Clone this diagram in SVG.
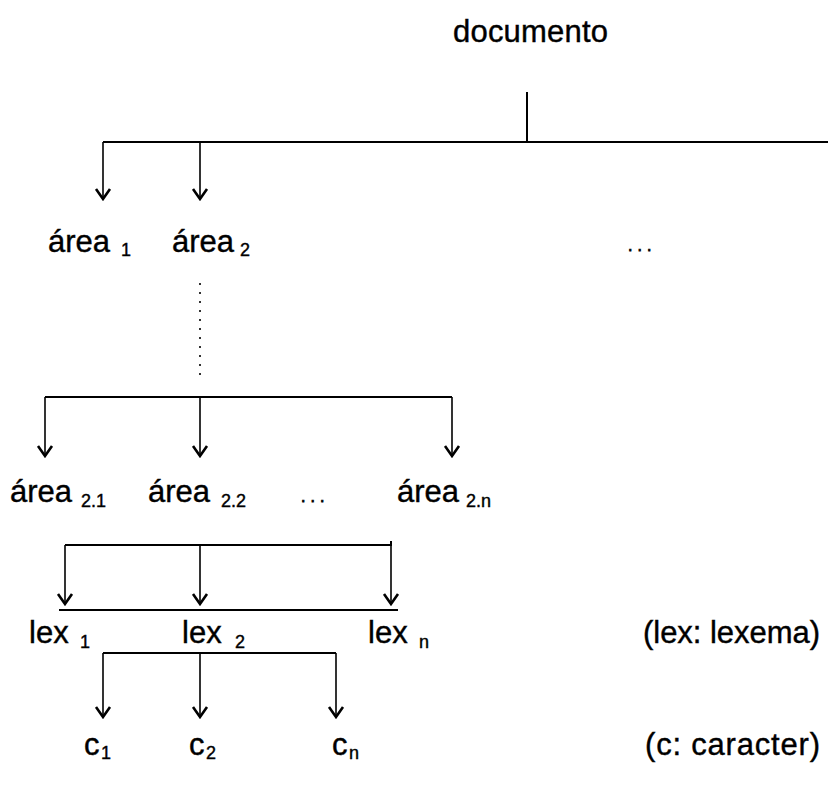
<svg xmlns="http://www.w3.org/2000/svg" width="828" height="787" viewBox="0 0 828 787">
<style>
text{font-family:"Liberation Sans",Arial,sans-serif;fill:#000;stroke:#000;stroke-width:0.4}
.m{font-size:31px}
.s{font-size:18px}
.d{font-size:16px;letter-spacing:5px;stroke-width:0.8}
.ln{stroke:#000;stroke-width:2;fill:none}
.ar{stroke:#000;stroke-width:1.6;fill:none;marker-end:url(#ah)}
.dot{stroke:#000;stroke-width:1.6;fill:none;stroke-dasharray:2 7}
</style>
<defs>
<marker id="ah" markerUnits="userSpaceOnUse" viewBox="-1 -9 13 18" markerWidth="13" markerHeight="18" refX="10" refY="0" orient="auto">
<path d="M0,-7 L10,0 L0,7" fill="none" stroke="#000" stroke-width="2.6"/>
</marker>
</defs>
<g id="connectors">
<line class="ln" x1="527" y1="92" x2="527" y2="143"/>
<line class="ln" x1="103" y1="142" x2="828" y2="142"/>
<line class="ar" x1="103" y1="142" x2="103" y2="199"/>
<line class="ar" x1="200" y1="142" x2="200" y2="199"/>
<line class="dot" x1="200" y1="283" x2="200" y2="378"/>
<line class="ln" x1="45" y1="397" x2="452" y2="397"/>
<line class="ar" x1="45" y1="397" x2="45" y2="456"/>
<line class="ar" x1="200" y1="397" x2="200" y2="456"/>
<line class="ar" x1="452" y1="397" x2="452" y2="456"/>
<line class="ln" x1="65" y1="545" x2="392" y2="545"/>
<line class="ln" x1="391" y1="541" x2="391" y2="546"/>
<line class="ar" x1="65" y1="545" x2="65" y2="604"/>
<line class="ar" x1="200" y1="545" x2="200" y2="604"/>
<line class="ar" x1="391" y1="545" x2="391" y2="604"/>
<line class="ln" x1="59" y1="610" x2="398" y2="610"/>
<line class="ln" x1="103" y1="653" x2="336" y2="653"/>
<line class="ar" x1="103" y1="653" x2="103" y2="717"/>
<line class="ar" x1="200" y1="653" x2="200" y2="717"/>
<line class="ar" x1="336" y1="653" x2="336" y2="717"/>
</g>
<g id="documento"><text class="m" x="453" y="42" textLength="155">documento</text></g>
<g id="area1"><text class="m" x="48" y="252">área</text><text class="s" x="121" y="256">1</text></g>
<g id="area2"><text class="m" x="172" y="252">área</text><text class="s" x="240" y="256">2</text></g>
<g id="dots1"><text class="d" x="628" y="251">...</text></g>
<g id="area21"><text class="m" x="10" y="502">área</text><text class="s" x="81" y="507">2.1</text></g>
<g id="area22"><text class="m" x="148" y="502">área</text><text class="s" x="221" y="507">2.2</text></g>
<g id="dots2"><text class="d" x="301" y="502">...</text></g>
<g id="area2n"><text class="m" x="397" y="502">área</text><text class="s" x="466" y="507">2.n</text></g>
<g id="lex1"><text class="m" x="29" y="643">lex</text><text class="s" x="80" y="648">1</text></g>
<g id="lex2"><text class="m" x="182" y="643">lex</text><text class="s" x="235" y="648">2</text></g>
<g id="lexn"><text class="m" x="368" y="643">lex</text><text class="s" x="419" y="648">n</text></g>
<g id="lexnote"><text class="m" x="643" y="643" textLength="177">(lex: lexema)</text></g>
<g id="c1"><text class="m" x="84" y="755">c</text><text class="s" x="101" y="759">1</text></g>
<g id="c2"><text class="m" x="189" y="755">c</text><text class="s" x="206" y="759">2</text></g>
<g id="cn"><text class="m" x="332" y="755">c</text><text class="s" x="349" y="759">n</text></g>
<g id="cnote"><text class="m" x="645" y="755" textLength="175">(c: caracter)</text></g>
</svg>
